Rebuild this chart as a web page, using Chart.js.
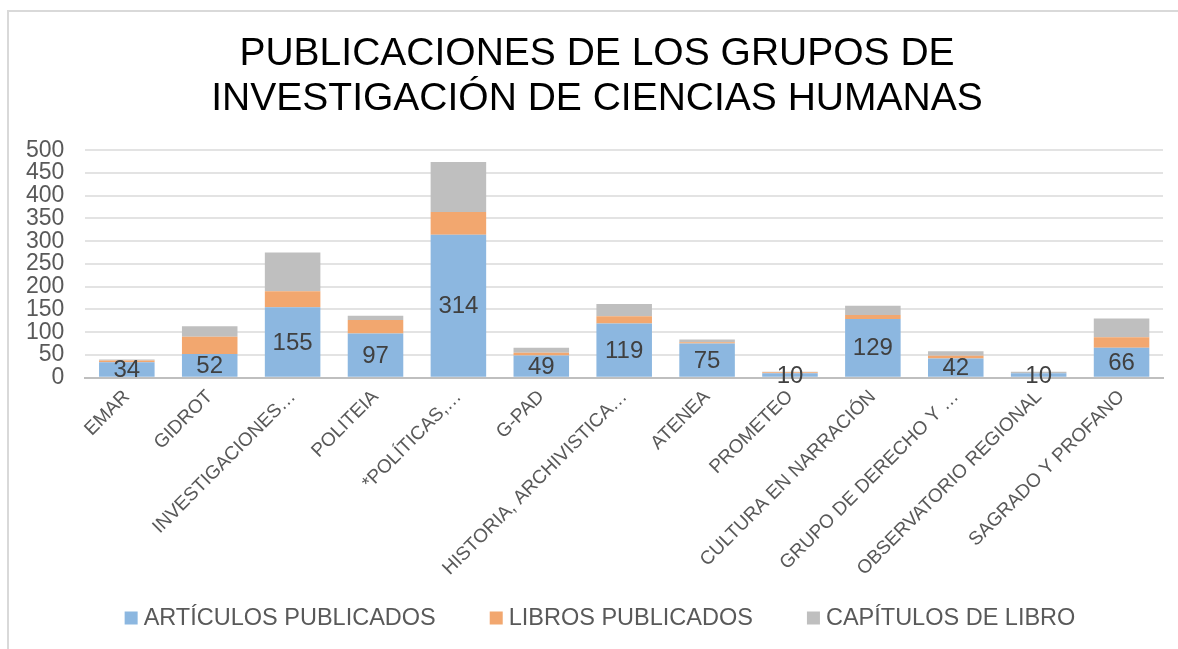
<!DOCTYPE html>
<html>
<head>
<meta charset="utf-8">
<script src="https://cdn.jsdelivr.net/npm/chart.js@4.4.1/dist/chart.umd.min.js"></script>
<style>
  html, body { margin: 0; padding: 0; background: #fff; overflow: hidden; }
  #frame { position: absolute; left: 7px; top: 10px; width: 1300px; height: 700px;
           border-left: 2px solid #d9d9d9; border-top: 2px solid #d9d9d9; }
  #wrap { position: absolute; left: 0; top: 0; width: 1200px; height: 649px; }
</style>
</head>
<body>
<div id="frame"></div>
<div id="wrap"><canvas id="barchart"></canvas></div>
<script>
const grupos = ["EMAR", "GIDROT", "INVESTIGACIONES…", "POLITEIA", "*POLÍTICAS,…", "G-PAD",
  "HISTORIA, ARCHIVISTICA…", "ATENEA", "PROMETEO", "CULTURA EN NARRACIÓN",
  "GRUPO DE DERECHO Y …", "OBSERVATORIO REGIONAL", "SAGRADO Y PROFANO"];
const articulos = [34, 52, 155, 97, 314, 49, 119, 75, 10, 129, 42, 10, 66];
const libros = [4, 38, 35, 30, 50, 6, 16, 3, 2, 9, 6, 0, 23];
const capitulos = [2, 23, 85, 9, 110, 11, 27, 6, 1, 20, 10, 3, 41];
const yTicks = [0, 50, 100, 150, 200, 250, 300, 350, 400, 450, 500];

const FONT = '"Liberation Sans", Arial, sans-serif';
Chart.defaults.font.family = FONT;

// numbers in the middle of the blue bars
const barLabels = {
  id: 'barLabels',
  afterDatasetsDraw(chart) {
    const ctx = chart.ctx;
    const meta = chart.getDatasetMeta(0);
    ctx.save();
    ctx.font = '24px ' + FONT;
    ctx.fillStyle = '#404040';
    ctx.textAlign = 'center';
    ctx.textBaseline = 'middle';
    meta.data.forEach((bar, i) => {
      ctx.fillText(articulos[i], bar.x, (bar.y + bar.base) / 2 + 1);
    });
    ctx.restore();
  }
};

// legend drawn by hand so the spacing looks like Excel
const bottomLegend = {
  id: 'bottomLegend',
  afterDraw(chart) {
    const ctx = chart.ctx;
    ctx.save();
    ctx.font = '23.5px ' + FONT;
    const box = 13, gap = 6, spacing = 54;
    const items = chart.data.datasets.map(d => ({
      text: d.label, color: d.backgroundColor, w: ctx.measureText(d.label).width
    }));
    const total = items.reduce((s, it) => s + box + gap + it.w, 0) + spacing * (items.length - 1);
    let x = chart.width / 2 - total / 2;
    const y = chart.height - 31;
    ctx.textBaseline = 'middle';
    ctx.textAlign = 'left';
    items.forEach(it => {
      ctx.fillStyle = it.color;
      ctx.fillRect(x, y - box / 2, box, box);
      ctx.fillStyle = '#595959';
      ctx.fillText(it.text, x + box + gap, y + 1);
      x += box + gap + it.w + spacing;
    });
    ctx.restore();
  }
};

const ctx = document.getElementById('barchart').getContext('2d');
const barchart = new Chart(ctx, {
  type: 'bar',
  data: {
    labels: grupos,
    datasets: [
      { label: 'ARTÍCULOS PUBLICADOS', data: articulos, backgroundColor: '#8cb7e0' },
      { label: 'LIBROS PUBLICADOS', data: libros, backgroundColor: '#f2a76f' },
      { label: 'CAPÍTULOS DE LIBRO', data: capitulos, backgroundColor: '#bfbfbf' }
    ]
  },
  options: {
    responsive: true,
    maintainAspectRatio: false,
    animation: false,
    layout: { padding: { left: 5, right: 11, top: 0, bottom: 61 } },
    datasets: { bar: { categoryPercentage: 1, barPercentage: 0.67 } },
    plugins: {
      legend: { display: false },
      tooltip: { enabled: false },
      title: {
        display: true,
        text: ['PUBLICACIONES DE LOS GRUPOS DE', 'INVESTIGACIÓN DE CIENCIAS HUMANAS'],
        color: '#000',
        font: { size: 39, weight: 'normal', lineHeight: 1.17 },
        padding: { top: 31, bottom: 28 }
      }
    },
    scales: {
      x: {
        stacked: true,
        grid: { display: false, drawTicks: false },
        border: { color: '#bfbfbf', width: 2 },
        ticks: { color: '#595959', font: { size: 19 }, minRotation: 45, maxRotation: 45, autoSkip: false, padding: 8 }
      },
      y: {
        stacked: true,
        min: 0,
        max: 500,
        afterBuildTicks: axis => { axis.ticks = yTicks.map(v => ({ value: v })); },
        grid: { color: '#e3e3e3', lineWidth: 2, drawTicks: false },
        border: { display: false },
        ticks: { color: '#595959', font: { size: 23, lineHeight: 0.9 }, padding: 21, autoSkip: false }
      },
      // empty right-hand spacer so the title sits centred like in Excel
      spacer: {
        type: 'linear',
        position: 'right',
        grid: { display: false, drawTicks: false },
        border: { display: false },
        ticks: { display: false },
        afterFit: s => { s.width = 26; }
      }
    }
  },
  plugins: [barLabels, bottomLegend]
});
</script>
</body>
</html>
